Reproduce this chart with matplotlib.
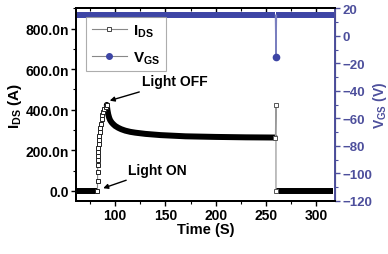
import matplotlib
matplotlib.use("Agg")
import matplotlib.pyplot as plt
from matplotlib.lines import Line2D
from matplotlib.ticker import MultipleLocator

plt.rcParams["font.family"] = ["Liberation Sans", "DejaVu Sans"]
plt.rcParams["font.weight"] = "bold"
plt.rcParams["axes.labelweight"] = "bold"
plt.rcParams["mathtext.fontset"] = "custom"
plt.rcParams["mathtext.rm"] = "Liberation Sans:bold"
plt.rcParams["mathtext.it"] = "Liberation Sans:bold"
plt.rcParams["mathtext.bf"] = "Liberation Sans:bold"
plt.rcParams["mathtext.default"] = "rm"

# ---- data (time in s, current in nA, voltage in V) ----
dark_t = [61, 82.3]
dark_i = [0, 0]
rise_t = [82.3, 82.4, 82.5, 82.6, 82.7, 82.8, 83.0, 83.2, 83.5, 83.8,
          84.2, 84.6, 85.1, 85.7, 86.4, 87.2, 88.1, 89.2, 90.4, 91.6]
rise_i = [0, 50, 95, 128, 150, 172, 192, 212, 232, 252,
          272, 292, 312, 332, 352, 372, 390, 405, 416, 424]
decay_t = [91.6, 92.2, 93, 94, 95, 96.5, 98, 100, 103, 106, 110, 115,
           120, 130, 145, 170, 200, 230, 259]
decay_i = [424, 400, 378, 360, 348, 337, 329, 320, 311, 304, 297, 291,
           287, 281, 275, 269, 266, 264, 263]
step_t = [259.5, 260, 260]
step_i = [263, 425, 0]
off_t = [260.5, 317]
off_i = [0, 0]

vgs_on_t = [58, 259.5]
vgs_on_v = [15, 15]
vgs_step_t = [259.5, 260, 260.5]
vgs_step_v = [15, -15, 15]
vgs_after_t = [260.5, 322]
vgs_after_v = [15, 15]

ids_ticks = [0, 200, 400, 600, 800]
ids_ticklabels = ["0.0", "200.0n", "400.0n", "600.0n", "800.0n"]
vgs_ticks = [-120, -100, -80, -60, -40, -20, 0, 20]
time_ticks = [100, 150, 200, 250, 300]

BLUE = "#3d45a5"
AXBLUE = "#4d4f9c"
FS = 10

fig = plt.figure(figsize=(3.88, 2.55), dpi=100)
ax = fig.add_axes([0.196, 0.208, 0.668, 0.755])
ax2 = ax.twinx()

# I_DS: dense sampling shows as a thick band, sparse points as open squares
ax.plot(dark_t, dark_i, color="black", lw=4.3, solid_capstyle="butt", zorder=3)
ax.plot(decay_t, decay_i, color="black", lw=4.3, solid_capstyle="round", zorder=3)
ax.plot(off_t, off_i, color="black", lw=4.3, solid_capstyle="butt", zorder=3)
ax.plot(rise_t, rise_i, color="#888888", lw=0.8, marker="s", ms=3.3,
        mfc="white", mec="#222222", mew=0.7, zorder=4)
ax.plot(step_t, step_i, color="#999999", lw=0.9, marker="s", ms=3.3,
        mfc="white", mec="#555555", mew=0.7, zorder=4)

# V_GS
ax2.plot(vgs_on_t, vgs_on_v, color=BLUE, lw=4.3, solid_capstyle="butt")
ax2.plot(vgs_after_t, vgs_after_v, color=BLUE, lw=4.3, solid_capstyle="butt")
ax2.plot(vgs_step_t, vgs_step_v, color="#7a7fbf", lw=1.0)
ax2.plot([vgs_step_t[1]], [vgs_step_v[1]], "o", color=BLUE, ms=4.5)

ax.set_xlim(61, 319)
ax.set_ylim(-50, 900)
ax2.set_ylim(-120, 20)

ax.set_xticks(time_ticks)
ax.xaxis.set_minor_locator(MultipleLocator(25))
ax.set_yticks(ids_ticks)
ax.set_yticklabels(ids_ticklabels)
ax.yaxis.set_minor_locator(MultipleLocator(100))
ax2.set_yticks(vgs_ticks)
ax2.yaxis.set_minor_locator(MultipleLocator(10))

ax.tick_params(axis="both", which="major", labelsize=FS, width=1.0, length=3.5, pad=1.5)
ax.tick_params(axis="both", which="minor", width=0.8, length=2)
ax.xaxis.set_tick_params(which="both", top=True)
for t in ax.xaxis.get_major_ticks() + ax.xaxis.get_minor_ticks():
    t.tick2line.set_marker(3)
ax2.tick_params(axis="y", which="major", labelsize=9.5, width=1.0, length=3.5,
                pad=1.5, colors=AXBLUE)
ax2.tick_params(axis="y", which="minor", width=0.8, length=2, colors=AXBLUE)

for s in ["left", "bottom", "top"]:
    ax.spines[s].set_linewidth(1.4)
    ax2.spines[s].set_linewidth(1.4)
ax2.spines["right"].set_linewidth(1.4)
ax2.spines["right"].set_color(AXBLUE)

ax.set_xlabel("Time (S)", fontsize=10.5, labelpad=0)
ax.set_ylabel("$I_{DS}$ (A)", fontsize=11, labelpad=1)
ax2.set_ylabel("$V_{GS}$ (V)", fontsize=10, color=AXBLUE, labelpad=-1)

arrow = dict(arrowstyle="-|>", color="black", lw=1.0, mutation_scale=7,
             shrinkA=2, shrinkB=0)
ax.annotate("Light OFF", xy=(94.5, 445), xytext=(127, 540), fontsize=FS,
            va="center", ha="left", arrowprops=arrow)
ax.annotate("Light ON", xy=(88, 13), xytext=(112.5, 105), fontsize=FS,
            va="center", ha="left", arrowprops=arrow)

handles = [
    Line2D([], [], color="#888888", lw=0.8, marker="s", ms=3.5, mfc="white",
           mec="#444444", mew=0.7),
    Line2D([], [], color="#888888", lw=0.8, marker="o", ms=4, mfc=BLUE, mec=BLUE),
]
leg = ax2.legend(handles, ["$I_{DS}$", "$V_{GS}$"], loc="upper left",
                 bbox_to_anchor=(0.04, 0.955), fontsize=11, frameon=True,
                 fancybox=False, edgecolor="#999999", handlelength=2.3,
                 borderpad=0.35, labelspacing=0.7, handletextpad=0.4,
                 borderaxespad=0)
leg.get_frame().set_linewidth(0.8)

fig.savefig("out.png", dpi=100)
